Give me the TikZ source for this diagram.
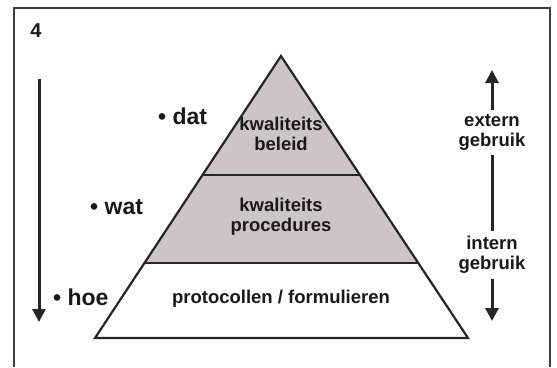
\documentclass[tikz,border=0pt]{standalone}
\usepackage{fontspec}
\setmainfont{Liberation Sans}
\usetikzlibrary{arrows.meta, calc}

\definecolor{laaggrijs}{RGB}{205,196,198}

\tikzset{
	tekst/.style = {font=\bfseries\fontsize{18.5}{20}\selectfont, align=center, inner sep=1pt, text=black!90},
	punt/.style = {font=\bfseries\fontsize{23}{24}\selectfont, inner sep=1pt, text=black!90},
	pijl/.style = {line width=3pt, draw=black!85, -{Triangle[width=13pt,length=13pt]}},
	lijn/.style = {line width=3pt, draw=black!85},
}

\begin{document}
\begin{tikzpicture}[x=1pt, y=-1pt]
	\useasboundingbox (0,0) rectangle (557,367);
	\fill[white] (0,0) rectangle (557,367);
	\draw[line width=1.5pt, black!75] (14,367) -- (14,8) -- (550,8) -- (550,367);
	
	\node[punt, inner sep=0pt] (nr) at (36,31) {\fontsize{20}{22}\selectfont 4};
	
	% piramide
	\coordinate (top) at (281,56);
	\coordinate (lo) at (95,338);
	\coordinate (ro) at (468,338);
	\coordinate (l1) at (202.5,175);
	\coordinate (r1) at (359.5,175);
	\coordinate (l2) at (144.5,263);
	\coordinate (r2) at (417.5,263);
	
	\begin{scope}[line width=2.2pt, black!85, line join=miter]
		\fill[laaggrijs] (top) -- (l2) -- (r2) -- cycle;
		\draw (top) -- (lo) -- (ro) -- cycle;
		\draw (l1) -- (r1);
		\draw (l2) -- (r2);
	\end{scope}
	
	\node[tekst] (beleid) at (281,134) {kwaliteits\\beleid};
	\node[tekst] (procedures) at (281,217) {kwaliteits\\procedures};
	\node[tekst] (protocollen) at (281,299) {protocollen / formulieren};
	
	\node[punt, anchor=west] (dat) at (157,116) {\textbullet\ dat};
	\node[punt, anchor=west] (wat) at (89,207) {\textbullet\ wat};
	\node[punt, anchor=west] (hoe) at (52,297) {\textbullet\ hoe};
	
	% links
	\coordinate (boven) at (39,79);
	\coordinate (onder) at (39,322);
	\draw[pijl] (boven) -- (onder);
	
	% rechts
	\node[tekst] (extern) at (492,132) {extern\\gebruik};
	\node[tekst] (intern) at (492,255) {intern\\gebruik};
	\coordinate (piek) at (492,70);
	\coordinate (voet) at (492,321);
	\draw[pijl] ($(extern.north)+(0,-3)$) -- (piek);
	\draw[lijn] ($(extern.south)+(0,4)$) -- ($(intern.north)+(0,-4)$);
	\draw[pijl] ($(intern.south)+(0,4)$) -- (voet);
\end{tikzpicture}
\end{document}
